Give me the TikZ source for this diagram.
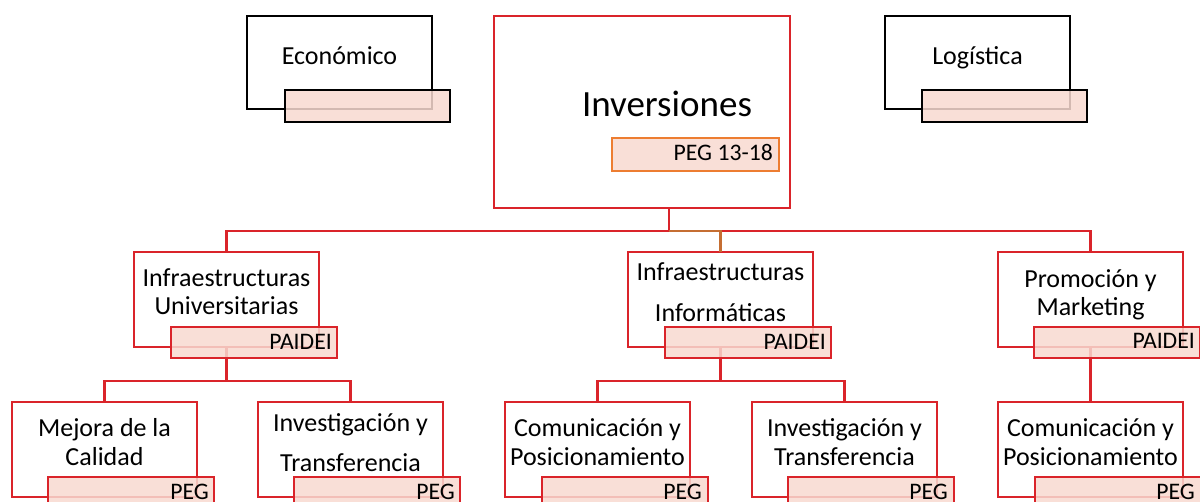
\documentclass[tikz,border=0pt]{standalone}
\usepackage{fontspec}
\setmainfont{Carlito}
\definecolor{boxred}{RGB}{218,36,42}
\definecolor{pinkfill}{RGB}{248,218,208}
\definecolor{accorange}{RGB}{237,125,49}
\definecolor{connorange}{RGB}{197,110,50}
\begin{document}
\begin{tikzpicture}[x=1pt,y=-1pt,
  mainbox/.style={draw=boxred, line width=2.5pt, fill=white, minimum width=185pt, minimum height=95pt, anchor=north west, inner sep=0pt, outer sep=0pt},
  blackbox/.style={draw=black, line width=2.8pt, fill=white, minimum width=185pt, minimum height=93pt, anchor=north west, inner sep=0pt, outer sep=0pt},
  tagbox/.style={draw=boxred, line width=2.5pt, fill=pinkfill, fill opacity=0.85, minimum width=166pt, minimum height=31pt, anchor=north west, inner sep=0pt, outer sep=0pt},
  blacktag/.style={tagbox, draw=black, line width=2.8pt, minimum height=32pt, minimum width=165pt},
  lbl/.style={font=\fontsize{26}{28}\selectfont, anchor=base, inner sep=0pt},
  tagtxt/.style={font=\fontsize{23.7}{26}\selectfont, anchor=base east, inner sep=0pt},
  conn/.style={draw=boxred, line width=2.5pt},
  connor/.style={draw=connorange, line width=2.5pt}]
\useasboundingbox (0,0) rectangle (1200,502);
\clip (0,0) rectangle (1200,502);
\fill[white] (0,0) rectangle (1200,502);

% top boxes
\node[blackbox] (eco) at (247,16) {};
\node[blackbox] (log) at (885,16) {};
\node[mainbox, minimum width=296pt, minimum height=192pt] (inv) at (494,16) {};

% level 2 boxes
\node[mainbox] (iu) at (134,252) {};
\node[mainbox] (ii) at (628,252) {};
\node[mainbox] (pr) at (998,252) {};

% level 3 boxes
\node[mainbox] (mq) at (12,402) {};
\node[mainbox] (it1) at (258,402) {};
\node[mainbox] (cp1) at (505,402) {};
\node[mainbox] (it2) at (752,402) {};
\node[mainbox] (cp2) at (998,402) {};

% connectors
\coordinate (bus) at (669,231);
\draw[conn] (bus |- inv.south) -- (bus);
\draw[conn] (bus) -| (iu.north);
\draw[conn] (bus) -| (pr.north);
\draw[connor] (bus) -| (ii.north);

\draw[conn] (iu.south) -- ++(0,34) coordinate (b1);
\draw[conn] (b1) -| (mq.north);
\draw[conn] (b1) -| (it1.north);
\draw[conn] (ii.south) -- ++(0,34) coordinate (b2);
\draw[conn] (b2) -| (cp1.north);
\draw[conn] (b2) -| (it2.north);
\draw[conn] (pr.south) -- (cp2.north);

% tag boxes
\node[blacktag] (ecot) at (285,90) {};
\node[blacktag] (logt) at (922,90) {};
\node[tagbox, draw=accorange, minimum width=167pt, minimum height=33pt] (invt) at (612,138) {};
\node[tagbox] (iut) at (171,327) {};
\node[tagbox] (iit) at (665,327) {};
\node[tagbox] (prt) at (1034,327) {};
\node[tagbox] (mqt) at (48,477) {};
\node[tagbox] (it1t) at (294,477) {};
\node[tagbox] (cp1t) at (542,477) {};
\node[tagbox] (it2t) at (788,477) {};
\node[tagbox] (cp2t) at (1035,477) {};

% texts
\node[lbl] (ecol) at (339.5,65) {Económico};
\node[lbl] (logl) at (977.5,65) {Logística};
\node[lbl, font=\fontsize{37}{40}\selectfont] (invl) at (667,117) {Inversiones};
\node[tagtxt] (invtl) at (773,160.5) {PEG 13-18};

\node[lbl] (iul1) at (226.5,286.5) {Infraestructuras};
\node[lbl] (iul2) at (226.5,315) {Universitarias};
\node[tagtxt] (iutl) at (332,349.5) {PAIDEI};

\node[lbl] (iil1) at (720.5,281) {Infraestructuras};
\node[lbl] (iil2) at (720.5,321.5) {Informáticas};
\node[tagtxt] (iitl) at (826,349.5) {PAIDEI};

\node[lbl] (prl1) at (1090.5,287.5) {Promoción y};
\node[lbl] (prl2) at (1090.5,316) {Marketing};
\node[tagtxt] (prtl) at (1195,348.5) {PAIDEI};

\node[lbl] (mql1) at (104.5,436.5) {Mejora de la};
\node[lbl] (mql2) at (104.5,466) {Calidad};
\node[tagtxt] (mqtl) at (209,499.5) {PEG};

\node[lbl] (it1l1) at (350.5,431.5) {Investigación y};
\node[lbl] (it1l2) at (350.5,471.5) {Transferencia};
\node[tagtxt] (it1tl) at (455,499.5) {PEG};

\node[lbl] (cp1l1) at (597.5,436.5) {Comunicación y};
\node[lbl] (cp1l2) at (597.5,466) {Posicionamiento};
\node[tagtxt] (cp1tl) at (702,499.5) {PEG};

\node[lbl] (it2l1) at (844.5,436.5) {Investigación y};
\node[lbl] (it2l2) at (844.5,466) {Transferencia};
\node[tagtxt] (it2tl) at (948,499.5) {PEG};

\node[lbl] (cp2l1) at (1090.5,436.5) {Comunicación y};
\node[lbl] (cp2l2) at (1090.5,466) {Posicionamiento};
\node[tagtxt] (cp2tl) at (1195,499.5) {PEG};
\end{tikzpicture}
\end{document}
